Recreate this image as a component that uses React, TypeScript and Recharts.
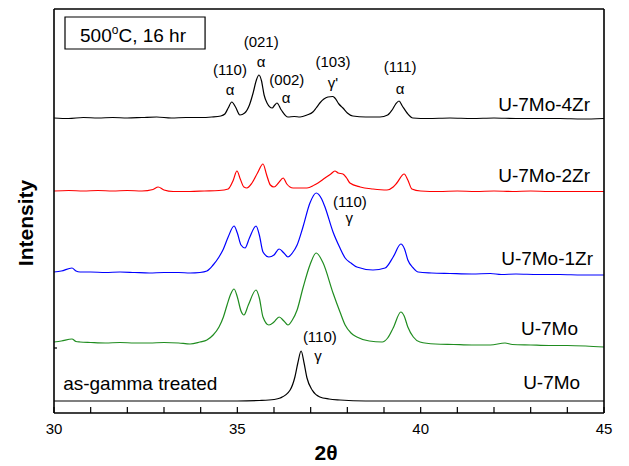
import { LineChart, Line, XAxis, YAxis, ReferenceDot, ReferenceArea } from "recharts";

// XRD patterns of U-7Mo alloys after 500 °C / 16 hr, stacked with vertical offsets.

type Pt = [number, number];

const FONT = "'Liberation Sans', Arial, Helvetica, sans-serif";

const xTicks = [30, 31, 32, 33, 34, 35, 36, 37, 38, 39, 40, 41, 42, 43, 44, 45];
const xLabelled = [30, 35, 40, 45];

const u7mo4zr: Pt[] = [
  [30.0, 295], [30.4, 294.5], [30.8, 295.5], [31.2, 295], [31.6, 295.5], [32.0, 295],
  [32.4, 295.5], [32.8, 296], [33.2, 295], [33.6, 295.5], [34.0, 295.5], [34.3, 296],
  [34.55, 297], [34.66, 299], [34.75, 305], [34.85, 311], [34.95, 306], [35.07, 298],
  [35.2, 300], [35.33, 308], [35.43, 320], [35.52, 333], [35.59, 338], [35.66, 332],
  [35.73, 318], [35.81, 310], [35.95, 305], [36.02, 308], [36.08, 310], [36.2, 303],
  [36.38, 296], [36.55, 296.5], [36.71, 296], [36.9, 298], [37.06, 301], [37.15, 305],
  [37.25, 310], [37.36, 314], [37.47, 316], [37.6, 316.5], [37.66, 315], [37.77, 309],
  [37.88, 305], [38.0, 300], [38.15, 297], [38.5, 296], [38.89, 296], [39.1, 298],
  [39.22, 303], [39.32, 309], [39.41, 312], [39.5, 307], [39.63, 300], [39.79, 295],
  [40.2, 294.5], [40.8, 295], [41.4, 294.5], [42.0, 295], [42.6, 294.5], [43.2, 294.5],
  [43.8, 294.5], [44.4, 294], [45.0, 294.5],
];

const u7mo2zr: Pt[] = [
  [30.0, 222], [30.4, 222.5], [30.8, 222], [31.2, 222.5], [31.6, 222], [32.0, 222.5],
  [32.4, 222], [32.7, 223.5], [32.84, 226], [33.0, 223], [33.25, 221.5], [33.7, 221.5],
  [34.1, 222], [34.5, 222.5], [34.75, 224], [34.88, 232], [34.99, 242], [35.08, 234],
  [35.18, 226], [35.26, 225], [35.4, 230], [35.55, 240], [35.7, 249], [35.8, 238],
  [35.9, 228], [36.0, 226], [36.12, 230], [36.25, 235], [36.35, 229], [36.52, 225],
  [36.9, 225], [37.1, 228], [37.2, 230], [37.39, 235], [37.55, 239], [37.66, 242],
  [37.75, 240], [37.88, 239], [37.98, 235], [38.07, 230], [38.35, 226], [38.7, 224],
  [39.08, 223], [39.25, 226], [39.35, 230], [39.55, 239], [39.65, 233], [39.76, 224],
  [40.0, 222], [40.5, 221.5], [41.0, 222], [41.5, 221.5], [42.0, 222], [42.5, 221.5],
  [43.0, 222], [43.5, 221.5], [44.0, 221.5], [44.5, 221.5], [45.0, 221.5],
];

const u7mo1zr: Pt[] = [
  [30.0, 141], [30.2, 142], [30.49, 145], [30.6, 142], [30.71, 141], [31.0, 141],
  [31.4, 140.5], [31.8, 141], [32.2, 140.5], [32.6, 140], [33.0, 140.5], [33.4, 140.5],
  [33.71, 140], [33.98, 140.5], [34.17, 142], [34.34, 148], [34.5, 156], [34.62, 164],
  [34.75, 176], [34.91, 187], [35.0, 180], [35.1, 168], [35.21, 165], [35.33, 175],
  [35.51, 187], [35.6, 178], [35.7, 161], [35.86, 156], [36.0, 158], [36.14, 164],
  [36.27, 160], [36.38, 156], [36.5, 160], [36.63, 168], [36.79, 186], [36.98, 210],
  [37.15, 220], [37.3, 214], [37.39, 206], [37.61, 181], [37.8, 165], [37.94, 155],
  [38.1, 150], [38.26, 146], [38.7, 143], [39.03, 145], [39.25, 156], [39.46, 169],
  [39.56, 164], [39.65, 153], [39.8, 145], [39.93, 141], [40.3, 140], [40.8, 139.5],
  [41.4, 139], [41.9, 139.5], [42.2, 138.5], [42.6, 139], [43.2, 138.5], [43.8, 138.5],
  [44.4, 138], [45.0, 138],
];

const u7mo: Pt[] = [
  [30.0, 71], [30.2, 72], [30.49, 74], [30.6, 71.5], [30.71, 71], [31.0, 70.5],
  [31.4, 70], [31.8, 70.5], [32.2, 70], [32.6, 70], [33.0, 70.5], [33.4, 70],
  [33.71, 69], [33.98, 71], [34.17, 73], [34.34, 78], [34.5, 86], [34.62, 96],
  [34.72, 108], [34.82, 119], [34.91, 124], [35.0, 116], [35.1, 102], [35.18, 98],
  [35.3, 108], [35.51, 123], [35.6, 115], [35.7, 96], [35.86, 88], [36.0, 91],
  [36.14, 96], [36.27, 92], [36.38, 88], [36.5, 93], [36.63, 103], [36.79, 125],
  [36.98, 148], [37.15, 160], [37.34, 150], [37.61, 120], [37.8, 101], [37.94, 88],
  [38.1, 80], [38.26, 76], [38.6, 72], [38.95, 71], [39.1, 75], [39.25, 85],
  [39.46, 101], [39.55, 97], [39.65, 86], [39.8, 76], [39.98, 71], [40.4, 69],
  [40.9, 68.5], [41.4, 68], [41.9, 68], [42.3, 70], [42.5, 68.5], [43.0, 68],
  [43.5, 67.5], [44.0, 67.5], [44.5, 67], [45.0, 66],
];

const asGamma: Pt[] = [
  [30.0, 12], [31.0, 12], [32.0, 12], [33.0, 12], [34.0, 12], [35.0, 12], [35.6, 12.5],
  [36.0, 13.5], [36.17, 15], [36.44, 23], [36.57, 36], [36.65, 50], [36.74, 62],
  [36.82, 50], [36.9, 35], [37.04, 23], [37.25, 16], [37.5, 14], [37.8, 13], [38.5, 12],
  [40.0, 12], [42.0, 12], [45.0, 12],
];

// reflection labels: [2θ, height, text]
const peakLabels: [number, number, string][] = [
  [34.8, 338, "(110)"], [34.8, 318, "α"],
  [35.65, 366, "(021)"], [35.65, 346, "α"],
  [36.35, 328, "(002)"], [36.33, 310, "α"],
  [37.61, 346, "(103)"], [37.61, 325, "γ'"],
  [39.44, 341, "(111)"], [39.44, 319, "α"],
  [38.07, 206, "(110)"], [38.05, 190, "γ"],
  [37.25, 71, "(110)"], [37.2, 52, "γ"],
];

// sample names: [2θ, height, text, anchor]
const sampleLabels: [number, number, string, "start" | "end"][] = [
  [44.62, 302, "U-7Mo-4Zr", "end"],
  [44.62, 231, "U-7Mo-2Zr", "end"],
  [44.7, 148, "U-7Mo-1Zr", "end"],
  [44.29, 78, "U-7Mo", "end"],
  [44.35, 24, "U-7Mo", "end"],
  [30.25, 23, "as-gamma treated", "start"],
];

const series = [
  { name: "U-7Mo-4Zr", data: u7mo4zr, color: "#000000" },
  { name: "U-7Mo-2Zr", data: u7mo2zr, color: "#ff0000" },
  { name: "U-7Mo-1Zr", data: u7mo1zr, color: "#0000ff" },
  { name: "U-7Mo", data: u7mo, color: "#1f8c1f" },
  { name: "as-gamma", data: asGamma, color: "#000000" },
];

const toRows = (pts: Pt[]) => pts.map(([t, v]) => ({ t, v }));

function BottomTick(props: any) {
  const { x, y, payload } = props;
  const v = payload.value as number;
  return (
    <g>
      <line x1={x} y1={y} x2={x} y2={y - 6} stroke="#000" strokeWidth={1.2} />
      {xLabelled.includes(v) && (
        <text x={x} y={y + 21} textAnchor="middle" fontSize={15} fontFamily={FONT} fill="#000">
          {v}
        </text>
      )}
    </g>
  );
}

function TopTick(props: any) {
  const { x, y } = props;
  return <line x1={x} y1={y} x2={x} y2={y + 6} stroke="#000" strokeWidth={1.2} />;
}

function LeftTick(props: any) {
  const { x, y } = props;
  return <line x1={x} y1={y} x2={x + 3} y2={y} stroke="#000" strokeWidth={1.2} />;
}

const textShape = (text: string, size: number, anchor: string) => (p: any) => (
  <text x={p.cx} y={p.cy} textAnchor={anchor} fontSize={size} fontFamily={FONT} fill="#000">
    {text}
  </text>
);

// axes are 1px thick so recharts still draws them; margins make up the difference
export default function App() {
  return (
    <div style={{ position: "absolute", left: 0, top: 0 }}>
      <LineChart width={629} height={466} margin={{ top: 8, right: 24, bottom: 52, left: 53 }}>
        <XAxis
          xAxisId="b"
          dataKey="t"
          type="number"
          domain={[30, 45]}
          ticks={xTicks}
          interval={0}
          height={1}
          tickSize={0}
          tickMargin={0}
          tickLine={false}
          axisLine={{ stroke: "#000", strokeWidth: 1.6 }}
          tick={<BottomTick />}
          label={{
            content: () => (
              <text
                x={326}
                y={460}
                textAnchor="middle"
                fontSize={21}
                fontWeight="bold"
                fontFamily={FONT}
              >
                2θ
              </text>
            ),
          }}
        />
        <XAxis
          xAxisId="t"
          orientation="top"
          dataKey="t"
          type="number"
          domain={[30, 45]}
          ticks={xTicks}
          interval={0}
          height={1}
          tickSize={0}
          tickMargin={0}
          tickLine={false}
          axisLine={{ stroke: "#000", strokeWidth: 1.6 }}
          tick={<TopTick />}
        />
        <YAxis
          yAxisId="l"
          type="number"
          domain={[0, 404]}
          ticks={[65]}
          width={1}
          tickSize={0}
          tickMargin={0}
          tickLine={false}
          axisLine={{ stroke: "#000", strokeWidth: 1.6 }}
          tick={<LeftTick />}
          label={{
            content: () => (
              <text
                x={33}
                y={223}
                transform="rotate(-90 33 223)"
                textAnchor="middle"
                fontSize={21}
                fontWeight="bold"
                fontFamily={FONT}
              >
                Intensity
              </text>
            ),
          }}
        />
        <YAxis
          yAxisId="r"
          orientation="right"
          type="number"
          domain={[0, 404]}
          ticks={[]}
          width={1}
          tickLine={false}
          axisLine={{ stroke: "#000", strokeWidth: 1.6 }}
          tick={false}
        />
        {series.map((s) => (
          <Line
            key={s.name + s.data.length}
            xAxisId="b"
            yAxisId="l"
            data={toRows(s.data)}
            dataKey="v"
            type="monotone"
            stroke={s.color}
            strokeWidth={1.2}
            dot={false}
            activeDot={false}
            isAnimationActive={false}
          />
        ))}
        <ReferenceArea
          xAxisId="b"
          yAxisId="l"
          x1={30.3}
          x2={34.12}
          y1={364}
          y2={396}
          fill="#fff"
          fillOpacity={1}
          stroke="#000"
          strokeWidth={1.2}
        />
        <ReferenceDot
          xAxisId="b"
          yAxisId="l"
          x={30.71}
          y={371}
          r={0}
          shape={(p: any) => (
            <text x={p.cx} y={p.cy} fontSize={19} fontFamily={FONT} fill="#000">
              500
              <tspan dy={-8} fontSize={12}>o</tspan>
              <tspan dy={8}>C, 16 hr</tspan>
            </text>
          )}
        />
        {peakLabels.map(([t, v, text], i) => (
          <ReferenceDot
            key={"p" + i}
            xAxisId="b"
            yAxisId="l"
            x={t}
            y={v}
            r={0}
            shape={textShape(text, 15, "middle")}
          />
        ))}
        {sampleLabels.map(([t, v, text, anchor], i) => (
          <ReferenceDot
            key={"s" + i}
            xAxisId="b"
            yAxisId="l"
            x={t}
            y={v}
            r={0}
            shape={textShape(text, 19, anchor)}
          />
        ))}
      </LineChart>
    </div>
  );
}
